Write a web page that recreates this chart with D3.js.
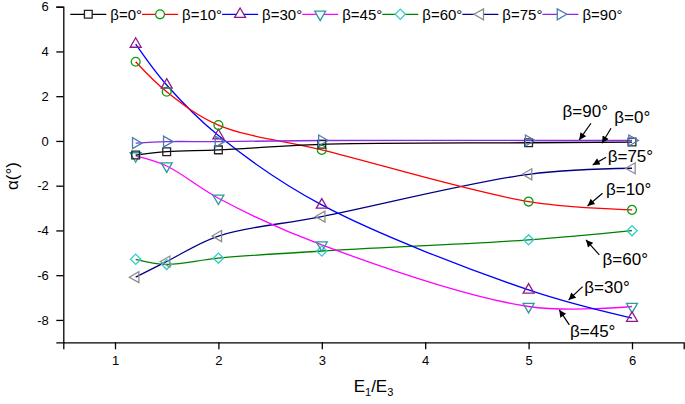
<!DOCTYPE html>
<html><head><meta charset="utf-8">
<script src="https://cdn.jsdelivr.net/npm/d3@7/dist/d3.min.js"></script>
<style>body{margin:0;background:#fff}svg{display:block;font-family:"Liberation Sans",Arial,sans-serif}</style>
</head><body>
<svg id="c" width="685" height="404"></svg>
<script>
const xValues = [1.2, 1.5, 2, 3, 5, 6];
const seriesNames = ["β=0°", "β=10°", "β=30°", "β=45°", "β=60°", "β=75°", "β=90°"];
const beta0  = [-0.63, -0.48, -0.40, -0.15, -0.08, -0.05];
const beta10 = [3.54, 2.20, 0.71, -0.40, -2.71, -3.08];
const beta30 = [4.33, 2.50, 0.24, -2.86, -6.66, -7.92];
const beta45 = [-0.67, -1.12, -2.56, -4.65, -7.40, -7.40];
const beta60 = [-5.29, -5.52, -5.24, -4.92, -4.42, -4.01];
const beta75 = [-6.09, -5.39, -4.25, -3.38, -1.49, -1.22];
const beta90 = [-0.10, -0.03, -0.03, 0.02, 0.02, 0.02];
const xTicks = [1, 2, 3, 4, 5, 6];
const yTicks = [-8, -6, -4, -2, 0, 2, 4, 6];
// annotation: label, arrow head in data units
const annLabels = ["β=90°", "β=0°", "β=75°", "β=10°", "β=60°", "β=30°", "β=45°"];
const annHeadX = [5.49, 5.71, 5.62, 5.57, 5.555, 5.387, 5.297];
const annHeadY = [0.044, -0.104, -1.07, -2.905, -4.425, -7.106, -7.552];

const allValues = [beta0, beta10, beta30, beta45, beta60, beta75, beta90];
const lineColors = ["#000000", "#ff0000", "#0000ff", "#ff00ff", "#008000", "#000080", "#8a2be2"];
const markColors = ["#222222", "#139a13", "#8b1a8b", "#2a9a9a", "#33cccc", "#8c8c8c", "#4a7db5"];
const symbols = [
  {t: d3.symbolSquare, s: 60, r: 0},
  {t: d3.symbolCircle, s: 62, r: 0},
  {t: d3.symbolTriangle, s: 52, r: 0},
  {t: d3.symbolTriangle, s: 52, r: 180},
  {t: d3.symbolSquare, s: 52, r: 45},
  {t: d3.symbolTriangle, s: 52, r: -90},
  {t: d3.symbolTriangle, s: 52, r: 90}
];
// annotation layout offsets (px): tail and text relative to head
const annTail = [[11.7,-16.7],[9,-15],[13.4,-7.7],[15,-12.7],[13.3,15],[14,-13.3],[10,15]];
const annText = [[-16.7,-23.3],[12.3,-20],[15,-3.3],[18.4,-11],[16.6,25],[15.7,-6.7],[10.7,27.3]];

const svg = d3.select("#c");
const x = d3.scaleLinear().domain([0.5, 6.5]).range([63.3, 683.7]);
const y = d3.scaleLinear().domain([-9, 6]).range([342.3, 6.7]);

const defs = svg.append("defs");
defs.append("marker").attr("id","ah").attr("viewBox","0 0 10 10").attr("refX",10).attr("refY",5)
  .attr("markerWidth",9).attr("markerHeight",7).attr("markerUnits","userSpaceOnUse").attr("orient","auto")
  .append("path").attr("d","M0,0L10,5L0,10Z").attr("fill","#000");

// axes
const xAxis = svg.append("g").attr("transform",`translate(0,${y(-9)})`)
  .call(d3.axisBottom(x).tickValues(xTicks).tickFormat(d3.format("d")).tickSizeOuter(0).tickSize(7).tickPadding(6));
const yAxis = svg.append("g").attr("transform",`translate(${x(0.5)},0)`)
  .call(d3.axisLeft(y).tickValues(yTicks).tickFormat(d => d).tickSizeOuter(0).tickSize(7).tickPadding(7));
[xAxis, yAxis].forEach(a => {
  a.selectAll("path").attr("stroke","#000").attr("stroke-width",1.3);
  a.selectAll("line").attr("stroke","#000").attr("stroke-width",1.3);
  a.selectAll("text").attr("font-size",13).attr("fill","#000").attr("font-family",'"Liberation Sans",Arial,sans-serif');
});
yAxis.selectAll("text").attr("dx", "-0.5");

// axis titles
const xt = svg.append("text").attr("x", x(3.5)).attr("y", 392).attr("text-anchor","middle")
  .attr("font-size",17).attr("fill","#000");
xt.append("tspan").text("E");
xt.append("tspan").text("1").attr("font-size",11).attr("dy",4);
xt.append("tspan").text("/E").attr("dy",-4);
xt.append("tspan").text("3").attr("font-size",11).attr("dy",4);
svg.append("text").attr("transform",`translate(18,176) rotate(-90)`).attr("text-anchor","middle")
  .attr("font-size",17).attr("fill","#000").text("α(°)");

// lines
const line = d3.line().x(d => x(d[0])).y(d => y(d[1])).curve(d3.curveCatmullRom.alpha(0.5));
const drawOrder = [4, 5, 3, 2, 1, 0, 6];
drawOrder.forEach(i => {
  const pts = xValues.map((v, j) => [v, allValues[i][j]]);
  svg.append("path").datum(pts).attr("d", line).attr("fill","none")
    .attr("stroke", lineColors[i]).attr("stroke-width", 1.3);
});
drawOrder.forEach(i => {
  const sym = d3.symbol().type(symbols[i].t).size(symbols[i].s);
  svg.append("g").selectAll("path").data(xValues.map((v, j) => [v, allValues[i][j]])).join("path")
    .attr("d", sym).attr("transform", d => `translate(${x(d[0])},${y(d[1])}) rotate(${symbols[i].r})`)
    .attr("fill","none").attr("stroke", markColors[i]).attr("stroke-width", 1.3);
});

// legend
let lx = 70.3;
const ly = 14.3;
seriesNames.forEach((name, i) => {
  const g = svg.append("g");
  g.append("line").attr("x1", lx).attr("x2", lx + 36).attr("y1", ly).attr("y2", ly)
    .attr("stroke", lineColors[i]).attr("stroke-width", 1.3);
  g.append("path").attr("d", d3.symbol().type(symbols[i].t).size(symbols[i].s)())
    .attr("transform", `translate(${lx + 18},${ly}) rotate(${symbols[i].r})`)
    .attr("fill","#fff").attr("stroke", markColors[i]).attr("stroke-width", 1.3);
  const t = g.append("text").attr("x", lx + 40).attr("y", ly + 5.3).attr("font-size", 15).attr("fill","#000").text(name);
  lx = lx + 40 + t.node().getComputedTextLength();
});

// annotations
annLabels.forEach((lab, i) => {
  const hx = x(annHeadX[i]), hy = y(annHeadY[i]);
  svg.append("line").attr("x1", hx + annTail[i][0]).attr("y1", hy + annTail[i][1])
    .attr("x2", hx).attr("y2", hy).attr("stroke","#000").attr("stroke-width",1.2).attr("marker-end","url(#ah)");
  svg.append("text").attr("x", hx + annText[i][0]).attr("y", hy + annText[i][1])
    .attr("font-size", 17).attr("fill","#000").text(lab);
});
</script>
</body></html>
